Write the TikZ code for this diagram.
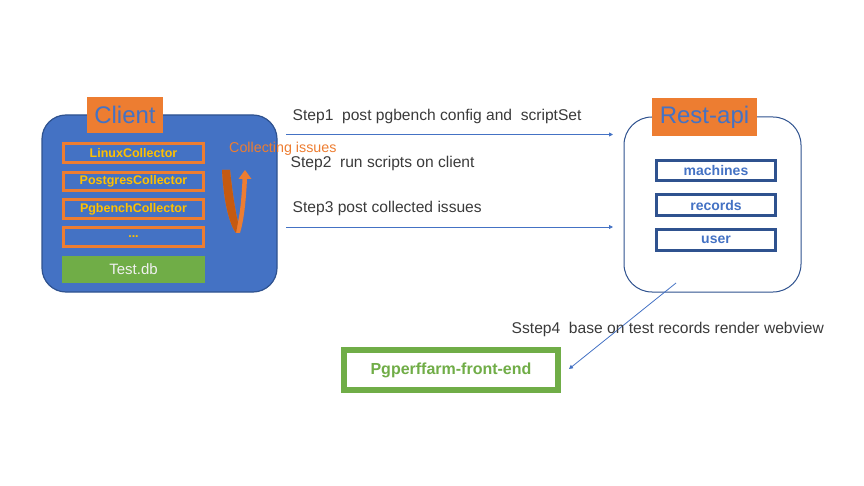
\documentclass[tikz,border=0pt]{standalone}
\usepackage{fontspec}
\setmainfont{Liberation Sans}
\usetikzlibrary{arrows.meta}
\definecolor{cblue}{HTML}{4472C4}
\definecolor{dblue}{HTML}{2F528F}
\definecolor{corange}{HTML}{ED7D31}
\definecolor{dorange}{HTML}{C55A11}
\definecolor{cyellow}{HTML}{FFC000}
\definecolor{cgreen}{HTML}{70AD47}
\definecolor{ctext}{HTML}{3A3A3A}
\tikzset{
  collector/.style={draw=corange, line width=2.6pt, fill=cblue, minimum width=140pt, minimum height=18.5pt, inner sep=0pt, text=cyellow, font=\fontsize{12.5}{14}\selectfont\bfseries},
  apibox/.style={draw=dblue, line width=2.8pt, fill=white, minimum width=119pt, minimum height=20.5pt, inner sep=0pt, text=cblue, font=\fontsize{14}{16}\selectfont\bfseries},
  lbl/.style={fill=corange, inner sep=0pt, text=cblue, font=\fontsize{24}{28}\selectfont},
  steptext/.style={anchor=west, inner sep=0pt, text=ctext, font=\fontsize{15.6}{18}\selectfont},
  conn/.style={draw=cblue, line width=0.8pt, -{Triangle[length=4pt,width=4pt]}}
}
\begin{document}
\begin{tikzpicture}[x=1pt,y=-1pt]
\useasboundingbox (0,0) rectangle (864,486);
% Client box
\node[draw=dblue, line width=1.2pt, fill=cblue, rounded corners=24pt, minimum width=235pt, minimum height=177pt, inner sep=0pt] (client) at (159.5,203.5) {};
\node[lbl, minimum width=76pt, minimum height=36pt] (clientlbl) at (125,115) {Client};
\node[collector] (linux) at (133.5,153) {LinuxCollector};
\node[collector] (postgres) at (133.5,181.5) {PostgresCollector};
\node[collector] (pgbench) at (133.5,209) {PgbenchCollector};
\node[collector] (dots) at (133.5,237) {\textbf{...}};
\node[fill=cgreen, minimum width=143pt, minimum height=27pt, inner sep=0pt, text=white!88!gray, font=\fontsize{15}{17}\selectfont] (testdb) at (133.5,269.5) {Test.db};
% U arrow
\fill[corange] (222,170) .. controls (224,205) and (230,225) .. (236,233) -- (240,233) .. controls (244,220) and (246,200) .. (247,179) -- (251.5,179) -- (245,170) -- (238.5,179) -- (242.5,179) .. controls (241.5,200) and (240,213) .. (238,222) .. controls (235,210) and (232,190) .. (230,170) -- cycle;
\fill[dorange] (222,170) .. controls (224,205) and (230,225) .. (236,233) -- (238,222) .. controls (235,210) and (232,190) .. (230,170) -- cycle;
\node[anchor=west, inner sep=0pt, text=corange, font=\fontsize{14.3}{16}\selectfont] (collecting) at (229,148.5) {Collecting issues};
% Rest-api box
\node[draw=dblue, line width=1pt, fill=white, rounded corners=28pt, minimum width=177pt, minimum height=175pt, inner sep=0pt] (rest) at (712.5,204.5) {};
\node[lbl, minimum width=105pt, minimum height=38pt] (restlbl) at (704.5,117) {Rest-api};
\node[apibox] (machines) at (716,170.5) {machines};
\node[apibox] (records) at (716,205) {records};
\node[apibox] (user) at (716,240) {user};
% Front end
\node[draw=cgreen, line width=6pt, fill=white, minimum width=214pt, minimum height=40pt, inner sep=0pt, text=cgreen, font=\fontsize{16}{18}\selectfont\bfseries] (front) at (451,370) {Pgperffarm-front-end};
% connectors
\coordinate (s1a) at (286,134.5);
\coordinate (s1b) at (613,134.5);
\coordinate (s3a) at (286,227);
\coordinate (s3b) at (613,227);
\coordinate (s4a) at (676,283);
\coordinate (s4b) at (569,369);
\draw[conn] (s1a) -- (s1b);
\draw[conn] (s3a) -- (s3b);
\draw[conn] (s4a) -- (s4b);
\node[steptext] (t1) at (292.5,116) {Step1\ \ post pgbench config and\ \ scriptSet};
\node[steptext] (t2) at (290.5,163) {Step2\ \ run scripts on client};
\node[steptext] (t3) at (292.5,208.5) {Step3 post collected issues};
\node[steptext] (t4) at (511.5,329) {Sstep4\ \ base on test records render webview};
\end{tikzpicture}
\end{document}
